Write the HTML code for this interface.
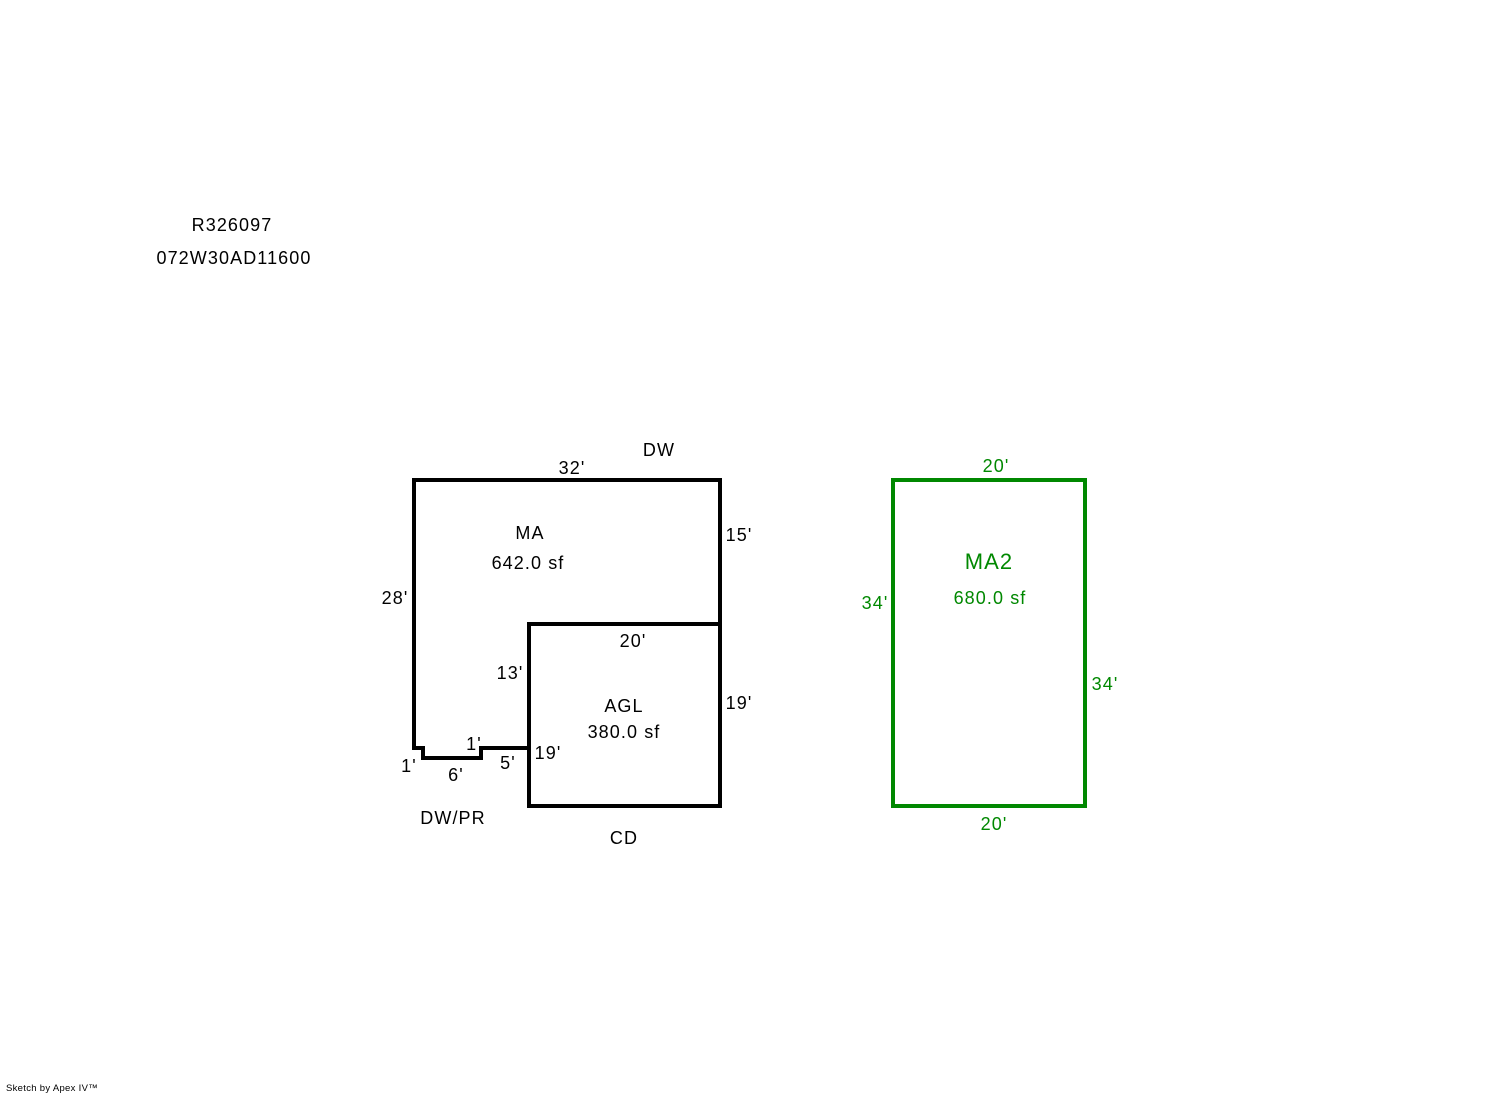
<!DOCTYPE html>
<html><head><meta charset="utf-8"><style>
html,body{margin:0;padding:0;background:#fff;}
svg{display:block;}
text{font-family:"Liberation Sans",Arial,sans-serif;font-size:18px;letter-spacing:1.1px;}
</style></head><body>
<svg width="1492" height="1094" viewBox="0 0 1492 1094" xmlns="http://www.w3.org/2000/svg">
<g fill="#000">
<text x="232" y="231" text-anchor="middle">R326097</text>
<text x="234" y="264" text-anchor="middle">072W30AD11600</text>
</g>
<g fill="none" stroke="#000" stroke-width="4" stroke-linejoin="miter">
<path d="M414 480 H720 V806 H529 V748 H481 V758 H423 V748 H414 Z"/>
<path d="M529 748 V624 H720"/>
</g>
<g fill="#000" text-anchor="middle">
<text x="659" y="456">DW</text>
<text x="572" y="474">32'</text>
<text x="530" y="539">MA</text>
<text x="528" y="569">642.0 sf</text>
<text x="739" y="541">15'</text>
<text x="395" y="604">28'</text>
<text x="633" y="647">20'</text>
<text x="510" y="679">13'</text>
<text x="624" y="712">AGL</text>
<text x="624" y="738">380.0 sf</text>
<text x="739" y="709">19'</text>
<text x="474" y="750">1'</text>
<text x="548" y="759">19'</text>
<text x="508" y="769">5'</text>
<text x="409" y="772">1'</text>
<text x="456" y="781">6'</text>
<text x="453" y="824">DW/PR</text>
<text x="624" y="844">CD</text>
</g>
<rect x="893" y="480" width="192" height="326" fill="none" stroke="#008800" stroke-width="4"/>
<g fill="#008800" text-anchor="middle">
<text x="996" y="472">20'</text>
<text x="989" y="569" style="font-size:22px">MA2</text>
<text x="990" y="604">680.0 sf</text>
<text x="875" y="609">34'</text>
<text x="1105" y="690">34'</text>
<text x="994" y="830">20'</text>
</g>
<text x="6" y="1091" style="font-size:9.5px;letter-spacing:0.3px" fill="#000">Sketch by Apex IV™</text>
</svg>
</body></html>
